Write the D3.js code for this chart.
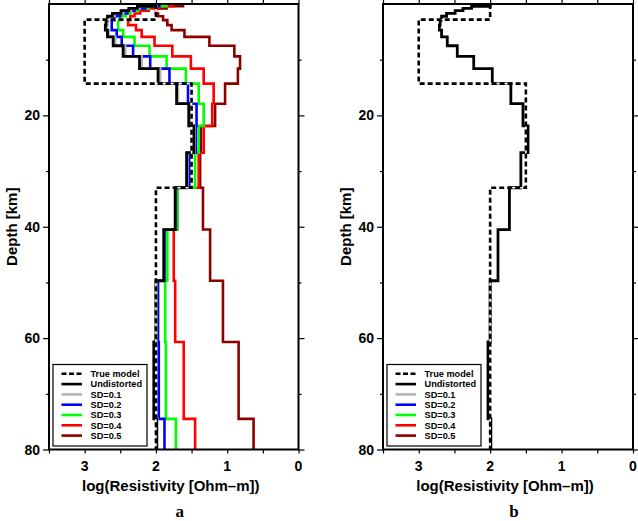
<!DOCTYPE html>
<html><head><meta charset="utf-8">
<script src="https://cdn.jsdelivr.net/npm/d3@7"></script>
<style>html,body{margin:0;padding:0;background:#fff;}svg{display:block;}</style>
</head><body>
<svg id="chart" width="638" height="521"></svg>
<script>
// ---------- data ----------
const layerTops = [0, 0.4, 0.8, 1.2, 1.7, 2.2, 2.9, 3.8, 4.7, 5.9, 7.5, 9.4, 11.6, 14.3, 17.9, 21.9, 26.7, 33.0, 40.5, 49.7, 60.7, 74.5];
const layerBottom = 80;
const trueTops = [0, 2.8, 14.3, 33.0];
const trueValues = [2.0, 3.0, 1.5, 2.0];
const undistorted = [2.00, 2.26, 2.38, 2.49, 2.61, 2.68, 2.70, 2.71, 2.68, 2.60, 2.46, 2.23, 1.97, 1.71, 1.54, 1.47, 1.57, 1.73, 1.89, 2.00, 2.03, 1.99];
const sd01 = [1.99, 2.23, 2.35, 2.46, 2.58, 2.66, 2.68, 2.69, 2.66, 2.57, 2.43, 2.20, 1.94, 1.69, 1.52, 1.46, 1.56, 1.73, 1.89, 1.99, 2.02, 1.98];
const sd02 = [1.95, 2.15, 2.30, 2.40, 2.50, 2.58, 2.62, 2.62, 2.55, 2.48, 2.32, 2.08, 1.81, 1.55, 1.43, 1.44, 1.53, 1.72, 1.88, 1.97, 1.96, 1.88];
const sd03 = [1.85, 2.10, 2.25, 2.35, 2.42, 2.50, 2.53, 2.53, 2.46, 2.30, 2.09, 1.85, 1.58, 1.40, 1.33, 1.40, 1.45, 1.70, 1.84, 1.87, 1.86, 1.72];
const sd04 = [1.76, 1.95, 2.10, 2.22, 2.30, 2.36, 2.39, 2.28, 2.20, 2.02, 1.77, 1.51, 1.33, 1.19, 1.21, 1.33, 1.40, 1.70, 1.75, 1.73, 1.61, 1.45];
const sd05 = [1.62, 1.85, 2.00, 2.00, 1.97, 1.90, 1.84, 1.78, 1.60, 1.25, 0.90, 0.82, 0.85, 1.03, 1.17, 1.37, 1.38, 1.34, 1.24, 1.06, 0.84, 0.63];
const xTicks = [3, 2, 1, 0];
const xMinorTicks = [3.5, 3, 2.5, 2, 1.5, 1, 0.5, 0];
const yTicks = [20, 40, 60, 80];
const yMinorTicks = [10, 30, 50, 70];
const legendLabels = ["True model", "Undistorted", "SD=0.1", "SD=0.2", "SD=0.3", "SD=0.4", "SD=0.5"];
const panelLetters = ["a", "b"];

// ---------- styles ----------
const COLORS = {u: "#000000", s1: "#b4b4b4", s2: "#0000ff", s3: "#00ff00", s4: "#ff0000", s5: "#8c0000"};
const FONT = "'Liberation Sans', Arial, Helvetica, sans-serif";

const svg = d3.select("#chart");

function stepPoints(tops, bottom, vals) {
  const pts = [];
  vals.forEach((v, i) => {
    const t = tops[i];
    const b = i + 1 < tops.length ? tops[i + 1] : bottom;
    pts.push([v, t]); pts.push([v, b]);
  });
  return pts;
}

function drawPanel(cfg) {
  const {x0, x1, y0, y1, id, series, letter} = cfg;
  const x = d3.scaleLinear().domain([3.5, 0]).range([x0, x1]);
  const y = d3.scaleLinear().domain([0, 80]).range([y0, y1]);
  const g = svg.append("g");
  g.append("clipPath").attr("id", "clip" + id).append("rect")
    .attr("x", x0).attr("y", y0).attr("width", x1 - x0).attr("height", y1 - y0);
  const line = d3.line().x(d => x(d[0])).y(d => y(d[1]));
  const lg = g.append("g").attr("clip-path", `url(#clip${id})`);

  series.forEach(s => {
    lg.append("path").attr("d", line(stepPoints(layerTops, layerBottom, s.values)))
      .attr("fill", "none").attr("stroke", s.color).attr("stroke-width", s.width)
      .attr("stroke-linejoin", "miter");
  });
  const tp = line(stepPoints(trueTops, layerBottom, trueValues));
  lg.append("path").attr("d", tp).attr("fill", "none").attr("stroke", "#fff").attr("stroke-width", 1.6);
  lg.append("path").attr("d", tp).attr("fill", "none").attr("stroke", "#000").attr("stroke-width", 2.6)
    .attr("stroke-dasharray", "5,3");

  // axes
  const axB = d3.axisBottom(x).tickValues(xMinorTicks).tickSize(4).tickFormat("");
  const axT = d3.axisTop(x).tickValues(xMinorTicks).tickSize(4).tickFormat("");
  const axL = d3.axisLeft(y).tickValues(yTicks).tickSize(6).tickFormat("");
  const axLm = d3.axisLeft(y).tickValues(yMinorTicks).tickSize(3).tickFormat("");
  const axR = d3.axisRight(y).tickValues(yTicks).tickSize(6).tickFormat("");
  const axRm = d3.axisRight(y).tickValues(yMinorTicks).tickSize(3).tickFormat("");
  const put = (ax, tx, ty) => {
    const a = g.append("g").attr("transform", `translate(${tx},${ty})`).call(ax);
    a.select(".domain").remove();
    a.selectAll("line").attr("stroke", "#000").attr("stroke-width", 1.2);
  };
  put(axB, 0, y1); put(axT, 0, y0); put(axL, x0, 0); put(axLm, x0, 0); put(axR, x1, 0); put(axRm, x1, 0);

  // tick labels
  g.selectAll(".xl").data(xTicks).enter().append("text")
    .attr("x", d => x(d)).attr("y", y1 + 21.5).attr("text-anchor", "middle")
    .attr("font-family", FONT).attr("font-weight", "bold").attr("font-size", 14).text(d => d);
  g.selectAll(".yl").data(yTicks).enter().append("text")
    .attr("x", x0 - 9).attr("y", d => y(d)).attr("dy", "0.36em").attr("text-anchor", "end")
    .attr("font-family", FONT).attr("font-weight", "bold").attr("font-size", 14).text(d => d);

  // frame
  g.append("rect").attr("x", x0).attr("y", y0).attr("width", x1 - x0).attr("height", y1 - y0)
    .attr("fill", "none").attr("stroke", "#000").attr("stroke-width", 2);

  // titles
  g.append("text").attr("x", (x0 + x1) / 2 - 3).attr("y", y1 + 41)
    .attr("text-anchor", "middle").attr("font-family", FONT).attr("font-weight", "bold").attr("font-size", 15)
    .text("log(Resistivity [Ohm\u2013m])");
  g.append("text").attr("transform", `translate(${x0 - 32},${(y0 + y1) / 2}) rotate(-90)`)
    .attr("text-anchor", "middle").attr("font-family", FONT).attr("font-weight", "bold").attr("font-size", 15)
    .text("Depth [km]");
  g.append("text").attr("x", (x0 + x1) / 2 + 6).attr("y", 517)
    .attr("text-anchor", "middle").attr("font-family", "'Liberation Serif', 'Times New Roman', serif")
    .attr("font-weight", "bold").attr("font-size", 17).text(letter);

  // legend
  const lx = x0 + 4, ly = 364.5, lw = 94, lh = 81.5;
  const leg = g.append("g");
  leg.append("rect").attr("x", lx).attr("y", ly).attr("width", lw).attr("height", lh)
    .attr("fill", "#fff").attr("stroke", "#000").attr("stroke-width", 1.2);
  const legColors = ["#000", COLORS.u, COLORS.s1, COLORS.s2, COLORS.s3, COLORS.s4, COLORS.s5];
  legendLabels.forEach((lab, i) => {
    const ry = 373.8 + i * 10.3;
    const ln = leg.append("line").attr("x1", lx + 8.5).attr("x2", lx + 29).attr("y1", ry).attr("y2", ry)
      .attr("stroke", legColors[i]).attr("stroke-width", 2.6);
    if (i === 0) ln.attr("stroke-dasharray", "5,2.5");
    leg.append("text").attr("x", lx + 37.5).attr("y", ry + 3.3)
      .attr("font-family", FONT).attr("font-weight", "bold").attr("font-size", 9.2).text(lab);
  });
}

drawPanel({
  x0: 49, x1: 298.5, y0: 4, y1: 449.5, id: "a", letter: panelLetters[0],
  series: [
    {values: sd05, color: COLORS.s5, width: 2.6},
    {values: sd04, color: COLORS.s4, width: 2.6},
    {values: sd03, color: COLORS.s3, width: 2.6},
    {values: sd02, color: COLORS.s2, width: 2.6},
    {values: sd01, color: COLORS.s1, width: 2.6},
    {values: undistorted, color: COLORS.u, width: 2.8}
  ]
});
drawPanel({
  x0: 383, x1: 633, y0: 4, y1: 449.5, id: "b", letter: panelLetters[1],
  series: [
    {values: undistorted, color: COLORS.u, width: 2.8}
  ]
});
</script>
</body></html>
